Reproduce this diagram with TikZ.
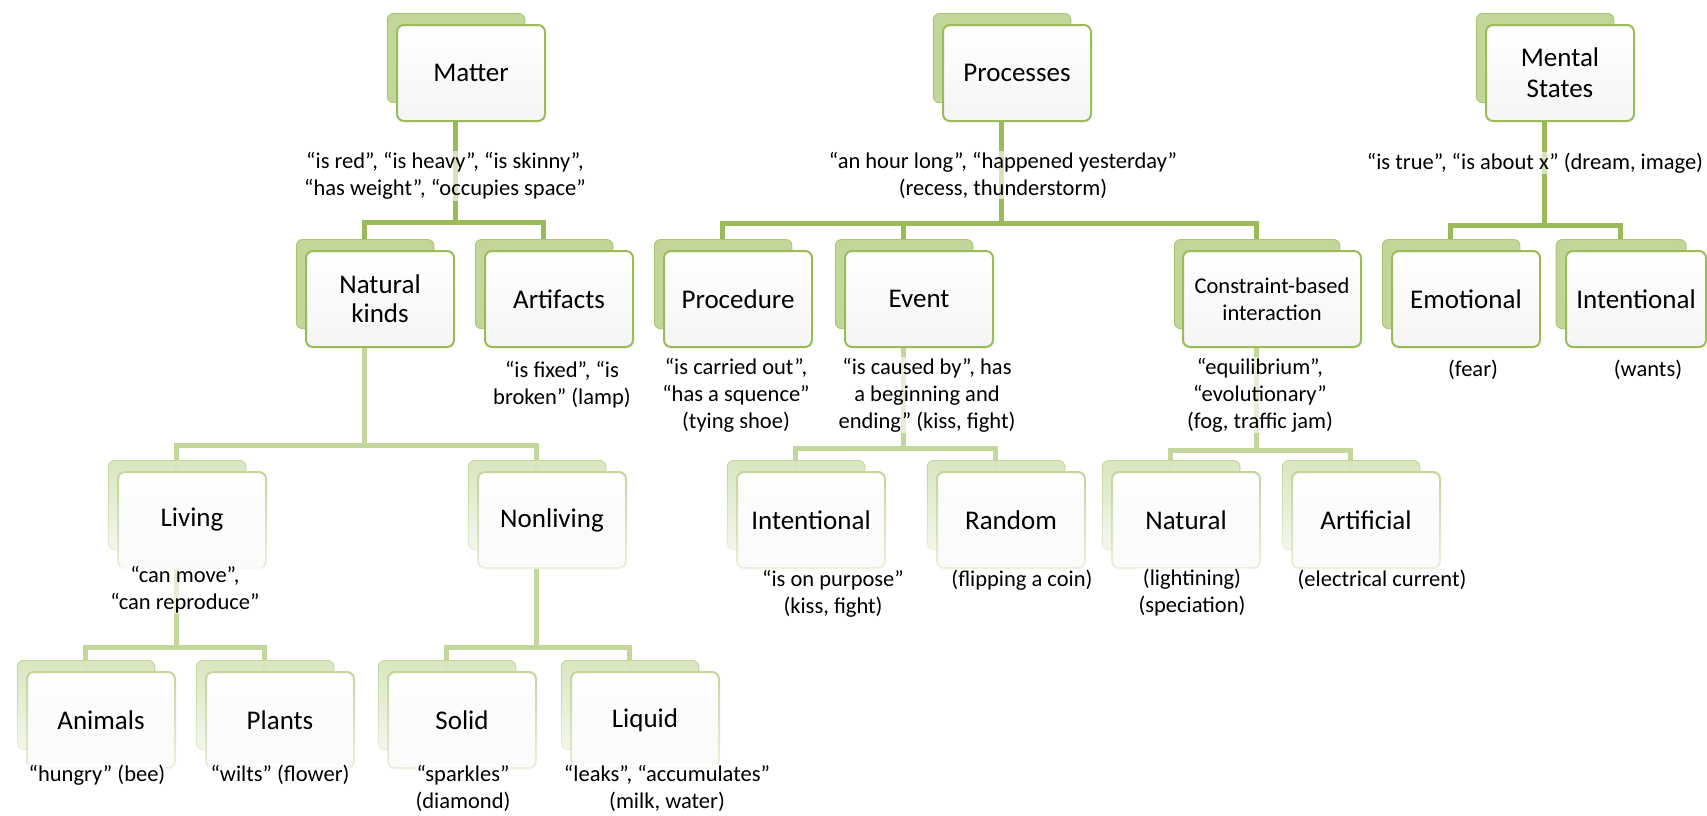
\documentclass[tikz,border=0pt]{standalone}
\usepackage{fontspec}
\setmainfont{Carlito}
\usetikzlibrary{shadows,backgrounds,fadings}

\definecolor{leaf}{HTML}{9BBB59}
\definecolor{leafpale}{HTML}{C3D69B}
\definecolor{leafback}{HTML}{C2D69A}
\definecolor{leafbackpale}{HTML}{D9E6C0}

\tikzfading[name=cardfade, top color=transparent!0, middle color=transparent!0,
	bottom color=transparent!70]

\tikzset{
	cardbase/.style={rectangle, rounded corners=7pt, line width=2pt,
		top color=white, bottom color=black!4, minimum width=148pt,
		minimum height=96pt, inner sep=2pt, align=center,
		font=\fontsize{27}{29}\selectfont},
	card/.style={cardbase, draw=leaf,
		copy shadow={shadow xshift=-16pt, shadow yshift=16pt, shadow scale=0.93,
			fill=leafback, draw=leaf!85, line width=1pt}},
	palecard/.style={cardbase, draw=leafpale, path fading=cardfade,
		copy shadow={shadow xshift=-16pt, shadow yshift=16pt, shadow scale=0.93,
			fill=leafbackpale, draw=leafpale, line width=1pt, path fading=cardfade},
		preaction={fill=white}},
	note/.style={align=center, inner sep=1pt, fill=white, fill opacity=0.6,
		text opacity=1, font=\fontsize{22.5}{27}\selectfont},
	link/.style={draw=leaf, line width=5pt},
	palelink/.style={draw=leafpale, line width=5pt}
}

\begin{document}
\begin{tikzpicture}[x=1pt, y=-1pt]
	\useasboundingbox (0,0) rectangle (1707,815);

	% Top
	\node [card] (matter) at (471,73) {Matter};
	\node [card] (processes) at (1017,73) {Processes};
	\node [card, font=\fontsize{27}{31}\selectfont] (mental) at (1560,73) {Mental\\States};

	% Second row
	\node [card] (natkinds) at (380,299) {Natural\\kinds};
	\node [card] (artifacts) at (559,299) {Artifacts};
	\node [card] (procedure) at (738,299) {Procedure};
	\node [card] (event) at (919,299) {Event};
	\node [card, minimum width=178pt, font=\fontsize{22.5}{27}\selectfont] (constraint) at (1272,299) {Constraint-based\\interaction};
	\node [card] (emotional) at (1466,299) {Emotional};
	\node [card, minimum width=140pt] (wants) at (1636,299) {Intentional};

	% Third row
	\node [palecard] (living) at (192,520) {Living};
	\node [palecard] (nonliving) at (552,520) {Nonliving};
	\node [palecard] (evintent) at (811,520) {Intentional};
	\node [palecard] (random) at (1011,520) {Random};
	\node [palecard] (natural) at (1186,520) {Natural};
	\node [palecard] (artificial) at (1366,520) {Artificial};

	% Bottom row
	\node [palecard] (animals) at (101,720) {Animals};
	\node [palecard] (plants) at (280,720) {Plants};
	\node [palecard] (solid) at (462,720) {Solid};
	\node [palecard] (liquid) at (645,720) {Liquid};

	% Bars
	\coordinate (mbar) at (455,222);
	\coordinate (pbar) at (1001,223);
	\coordinate (sbar) at (1544,225);
	\coordinate (nbar) at (364,445);
	\coordinate (ebar) at (903,448);
	\coordinate (cbar) at (1256,450);
	\coordinate (lbar) at (176,647);
	\coordinate (obar) at (536,647);

	% Links
	\begin{scope}[on background layer]
		\foreach \c in {natkinds, artifacts} {
			\draw [link] ([xshift=-16pt]matter.south) |- (mbar) -| ([xshift=-16pt]\c.north);
		}
		\foreach \c in {procedure, event, constraint} {
			\draw [link] ([xshift=-16pt]processes.south) |- (pbar) -| ([xshift=-16pt]\c.north);
		}
		\foreach \c in {emotional, wants} {
			\draw [link] ([xshift=-16pt]mental.south) |- (sbar) -| ([xshift=-16pt]\c.north);
		}
		\foreach \c in {living, nonliving} {
			\draw [palelink] ([xshift=-16pt]natkinds.south) |- (nbar) -| ([xshift=-16pt]\c.north);
		}
		\foreach \c in {evintent, random} {
			\draw [palelink] ([xshift=-16pt]event.south) |- (ebar) -| ([xshift=-16pt]\c.north);
		}
		\foreach \c in {natural, artificial} {
			\draw [palelink] ([xshift=-16pt]constraint.south) |- (cbar) -| ([xshift=-16pt]\c.north);
		}
		\foreach \c in {animals, plants} {
			\draw [palelink] ([xshift=-16pt]living.south) |- (lbar) -| ([xshift=-16pt]\c.north);
		}
		\foreach \c in {solid, liquid} {
			\draw [palelink] ([xshift=-16pt]nonliving.south) |- (obar) -| ([xshift=-16pt]\c.north);
		}
	\end{scope}

	% Notes
	\node [note] (mattertxt) at (445,176) {“is red”, “is heavy”, “is skinny”,\\“has weight”, “occupies space”};
	\node [note] (processestxt) at (1003,175) {“an hour long”, “happened yesterday”\\(recess, thunderstorm)};
	\node [note] (mentaltxt) at (1535,163) {“is true”, “is about x” (dream, image)};
	\node [note] (artifactstxt) at (562,385) {“is fixed”, “is\\broken” (lamp)};
	\node [note] (proceduretxt) at (736,395) {“is carried out”,\\“has a squence”\\(tying shoe)};
	\node [note] (eventtxt) at (927,395) {“is caused by”, has\\a beginning and\\ending” (kiss, fight)};
	\node [note] (constrainttxt) at (1260,395) {“equilibrium”,\\“evolutionary”\\(fog, traffic jam)};
	\node [note] (emotionaltxt) at (1473,370) {(fear)};
	\node [note] (wantstxt) at (1648,370) {(wants)};
	\node [note] (livingtxt) at (185,590) {“can move”,\\“can reproduce”};
	\node [note] (evintenttxt) at (833,594) {“is on purpose”\\(kiss, fight)};
	\node [note] (randomtxt) at (1022,580) {(flipping a coin)};
	\node [note] (naturaltxt) at (1192,593) {(lightining)\\(speciation)};
	\node [note] (artificialtxt) at (1382,580) {(electrical current)};
	\node [note] (animalstxt) at (97,775) {“hungry” (bee)};
	\node [note] (plantstxt) at (280,775) {“wilts” (flower)};
	\node [note] (solidtxt) at (463,788) {“sparkles”\\(diamond)};
	\node [note] (liquidtxt) at (667,788) {“leaks”, “accumulates”\\(milk, water)};
\end{tikzpicture}
\end{document}
